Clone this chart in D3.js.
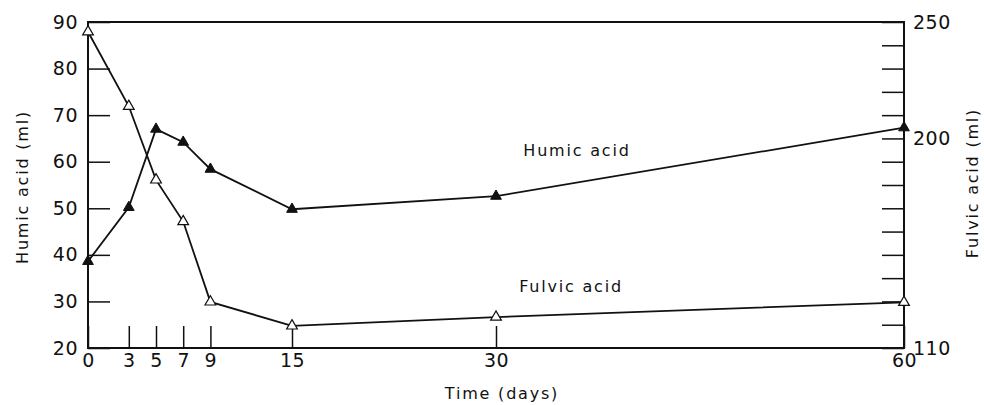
<!DOCTYPE html>
<html>
<head>
<meta charset="utf-8">
<script src="https://cdn.jsdelivr.net/npm/d3@7"></script>
<style>
  body { margin: 0; background: #fff; }
  svg { display: block; font-family: "DejaVu Sans", sans-serif; }
  .tick text { font-family: "DejaVu Sans", sans-serif; font-size: 19px; letter-spacing: 0.5px; fill: #111; }
  .lbl { font-family: "DejaVu Sans", sans-serif; font-size: 16px; letter-spacing: 1.8px; fill: #111; }
</style>
</head>
<body>
<div id="chart"></div>
<script>
// data
var days = [0, 3, 5, 7, 9, 15, 30, 60];
var humic = [38.6, 50.2, 67, 64.2, 58.4, 49.8, 52.6, 67.3];        // left axis (ml)
var fulvic = [245.8, 213.8, 182.2, 164.3, 129.8, 119.5, 123.3, 129.6]; // right axis (ml)

var xTickValues = [0, 3, 5, 7, 9, 15, 30, 60];
var leftTickValues = [20, 30, 40, 50, 60, 70, 80, 90];
var rightTickValues = [110, 120, 130, 140, 150, 160, 170, 180, 190, 200, 210, 220, 230, 240, 250];
var rightLabelled = [110, 200, 250];

var W = 984, H = 405;
var frame = {left: 88, right: 904, top: 22, bottom: 348};
var tickLen = 22;

var svg = d3.select("#chart").append("svg")
	.attr("width", W)
	.attr("height", H);

// scales
var x = d3.scaleLinear().domain([0, 60]).range([frame.left, frame.right]);
var yL = d3.scaleLinear().domain([20, 90]).range([frame.bottom, frame.top]);
var yR = d3.scaleLinear().domain([110, 250]).range([frame.bottom, frame.top]);

// axes, ticks pointing inward
svg.append("g")
	.attr("transform", "translate(0," + frame.bottom + ")")
	.call(d3.axisBottom(x).tickValues(xTickValues).tickSizeInner(-tickLen).tickSizeOuter(0).tickPadding(6))
	.call(function(g) { g.select(".domain").remove(); });

svg.append("g")
	.attr("transform", "translate(" + frame.left + ",0)")
	.call(d3.axisLeft(yL).tickValues(leftTickValues).tickSizeInner(-tickLen).tickSizeOuter(0).tickPadding(10))
	.call(function(g) { g.select(".domain").remove(); });

svg.append("g")
	.attr("transform", "translate(" + frame.right + ",0)")
	.call(d3.axisRight(yR).tickValues(rightTickValues).tickSizeInner(-tickLen).tickSizeOuter(0).tickPadding(9)
		.tickFormat(function(d) { return rightLabelled.indexOf(d) >= 0 ? d : ""; }))
	.call(function(g) { g.select(".domain").remove(); });

svg.selectAll(".tick line").attr("stroke", "#111").attr("stroke-width", 1.5);

// frame
svg.append("rect")
	.attr("x", frame.left)
	.attr("y", frame.top)
	.attr("width", frame.right - frame.left)
	.attr("height", frame.bottom - frame.top)
	.attr("fill", "none")
	.attr("stroke", "#111")
	.attr("stroke-width", 2);

// lines
var humicLine = d3.line()
	.x(function(d, i) { return x(days[i]); })
	.y(function(d) { return yL(d); });
var fulvicLine = d3.line()
	.x(function(d, i) { return x(days[i]); })
	.y(function(d) { return yR(d); });

svg.append("path")
	.attr("d", humicLine(humic))
	.attr("fill", "none").attr("stroke", "#111").attr("stroke-width", 1.8);
svg.append("path")
	.attr("d", fulvicLine(fulvic))
	.attr("fill", "none").attr("stroke", "#111").attr("stroke-width", 1.8);

// markers
var tri = d3.symbol().type(d3.symbolTriangle).size(50);

svg.selectAll(".fulvic")
	.data(fulvic)
	.enter().append("path")
	.attr("class", "fulvic")
	.attr("d", tri)
	.attr("transform", function(d, i) { return "translate(" + x(days[i]) + "," + yR(d) + ")"; })
	.attr("fill", "#fff").attr("stroke", "#111").attr("stroke-width", 1.2);

svg.selectAll(".humic")
	.data(humic)
	.enter().append("path")
	.attr("class", "humic")
	.attr("d", tri)
	.attr("transform", function(d, i) { return "translate(" + x(days[i]) + "," + yL(d) + ")"; })
	.attr("fill", "#111").attr("stroke", "#111").attr("stroke-width", 1);

// series labels
svg.append("text").attr("class", "lbl")
	.attr("x", 577).attr("y", 156)
	.attr("text-anchor", "middle")
	.text("Humic acid");
svg.append("text").attr("class", "lbl")
	.attr("x", 571).attr("y", 292)
	.attr("text-anchor", "middle")
	.text("Fulvic acid");

// axis titles
svg.append("text").attr("class", "lbl")
	.attr("x", 502).attr("y", 399)
	.attr("text-anchor", "middle")
	.text("Time (days)");

svg.append("text").attr("class", "lbl")
	.attr("transform", "translate(28,187) rotate(-90)")
	.attr("text-anchor", "middle")
	.text("Humic acid (ml)");

svg.append("text").attr("class", "lbl")
	.attr("transform", "translate(978,183) rotate(-90)")
	.attr("text-anchor", "middle")
	.text("Fulvic acid (ml)");
</script>
</body>
</html>
